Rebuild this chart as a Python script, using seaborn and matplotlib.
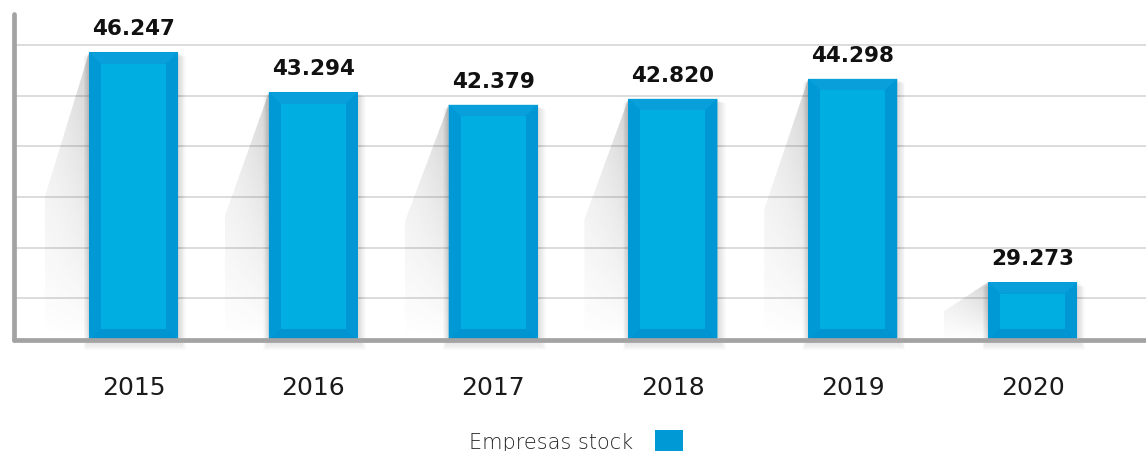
import numpy as np
import matplotlib
matplotlib.use("Agg")
import matplotlib.pyplot as plt
import seaborn as sns
from matplotlib.patches import Polygon, Rectangle, Patch

# ---- data ----
years = ["2015", "2016", "2017", "2018", "2019", "2020"]
empresas_stock = [46247, 43294, 42379, 42820, 44298, 29273]
series_label = "Empresas stock"

# ---- style ----
sns.set_theme(style="white")
plt.rcParams["font.family"] = ["DejaVu Sans"]

W, H = 1146, 451
fig = plt.figure(figsize=(W / 100, H / 100), dpi=100)
ax = fig.add_axes([14 / W, (H - 340) / H, (W - 14) / W, (340 - 14) / H])

Y0, Y1 = 25000, 49090
X0, X1 = -0.665, 5.631
BAR_OUT = "#0099d6"
BAR_IN = "#00aee2"

sns.barplot(x=years, y=empresas_stock, color=BAR_OUT, saturation=1,
            width=0.495, ax=ax, zorder=3, edgecolor="none")
ax.set_ylim(Y0, Y1)
ax.set_xlim(X0, X1)

# pixel -> data unit conversions (for decorative styling)
px_x = (X1 - X0) / (W - 14)
px_y = (Y1 - Y0) / (340 - 14)

# gridlines
ax.set_yticks(np.linspace(28080, 46800, 6))
ax.yaxis.grid(True, color="#d9d9d9", linewidth=1.3, zorder=0)
ax.set_axisbelow(True)
ax.tick_params(axis="y", length=0, labelleft=False)
ax.tick_params(axis="x", length=0, pad=26, labelsize=18, labelcolor="#1a1a1a")
ax.set_xlabel("")
ax.set_ylabel("")

for s in ["top", "right"]:
    ax.spines[s].set_visible(False)
for s in ["left", "bottom"]:
    ax.spines[s].set_color("#a3a3a3")
    ax.spines[s].set_linewidth(3.4)
    ax.spines[s].set_zorder(6)
    ax.spines[s].set_capstyle("round")

bars = ax.patches
for p in list(bars):
    L = p.get_x()
    w = p.get_width()
    T = p.get_height()
    R = L + w
    B = Y0
    # perspective shadow to the left (gradient clipped to polygon)
    off = 0.245
    mid = B + (T - B) * 0.5
    poly = Polygon([(L, T), (L - off, mid), (L - off, B), (L, B)],
                   closed=True, facecolor="none", edgecolor="none")
    ax.add_patch(poly)
    ny, nx = 100, 60
    yy = np.linspace(0, 1, ny)[:, None]
    xx = np.linspace(0, 1, nx)[None, :]
    alpha = 0.24 * (yy ** 0.9) * (0.45 + 0.55 * xx ** 1.5)
    img = np.zeros((ny, nx, 4))
    img[..., :3] = 0.25
    img[..., 3] = alpha
    im = ax.imshow(img, extent=[L - off, L, B, T], origin="lower",
                   aspect="auto", zorder=1, interpolation="bilinear")
    im.set_clip_path(poly)
    # soft drop shadow around bar
    for k in range(1, 10):
        r = Rectangle((L - k * px_x * 0.6, B - k * px_y * 1.1),
                      w + k * px_x * 1.5, (T - B) + k * px_y * 0.6,
                      facecolor="black", alpha=0.017, edgecolor="none",
                      zorder=2, clip_on=False)
        ax.add_patch(r)
    # bevel
    ix, iy = 12 * px_x, 11.5 * px_y
    top = Polygon([(L, T), (R, T), (R - ix, T - iy), (L + ix, T - iy)],
                  facecolor="#089fda", edgecolor="none", zorder=4)
    left = Polygon([(L, T), (L + ix, T - iy), (L + ix, B + iy), (L, B)],
                   facecolor="#0099d6", edgecolor="none", zorder=4)
    right = Polygon([(R, T), (R - ix, T - iy), (R - ix, B + iy), (R, B)],
                    facecolor="#0097d4", edgecolor="none", zorder=4)
    bot = Polygon([(L, B), (L + ix, B + iy), (R - ix, B + iy), (R, B)],
                  facecolor="#0094d0", edgecolor="none", zorder=4)
    inner = Rectangle((L + ix, B + iy), w - 2 * ix, (T - B) - 2 * iy,
                      facecolor=BAR_IN, edgecolor="none", zorder=4)
    for q in (top, left, right, bot, inner):
        ax.add_patch(q)

# value labels
labels = [f"{v:,}".replace(",", ".") for v in empresas_stock]
ax.bar_label(ax.containers[0], labels=labels, padding=9.5, fontsize=15.5,
             fontweight="bold", color="#111111", zorder=7)

# legend
handle = Patch(facecolor=BAR_OUT, edgecolor="none")
leg = fig.legend(handles=[handle], labels=[series_label], loc="center",
                 bbox_to_anchor=(576 / W, 1 - 442 / H), frameon=False,
                 markerfirst=False, handlelength=1.3, handleheight=1.35,
                 handletextpad=1.05, prop={"size": 15, "weight": "light"})
for t in leg.get_texts():
    t.set_color("#262626")

fig.savefig("out.png", dpi=100)
